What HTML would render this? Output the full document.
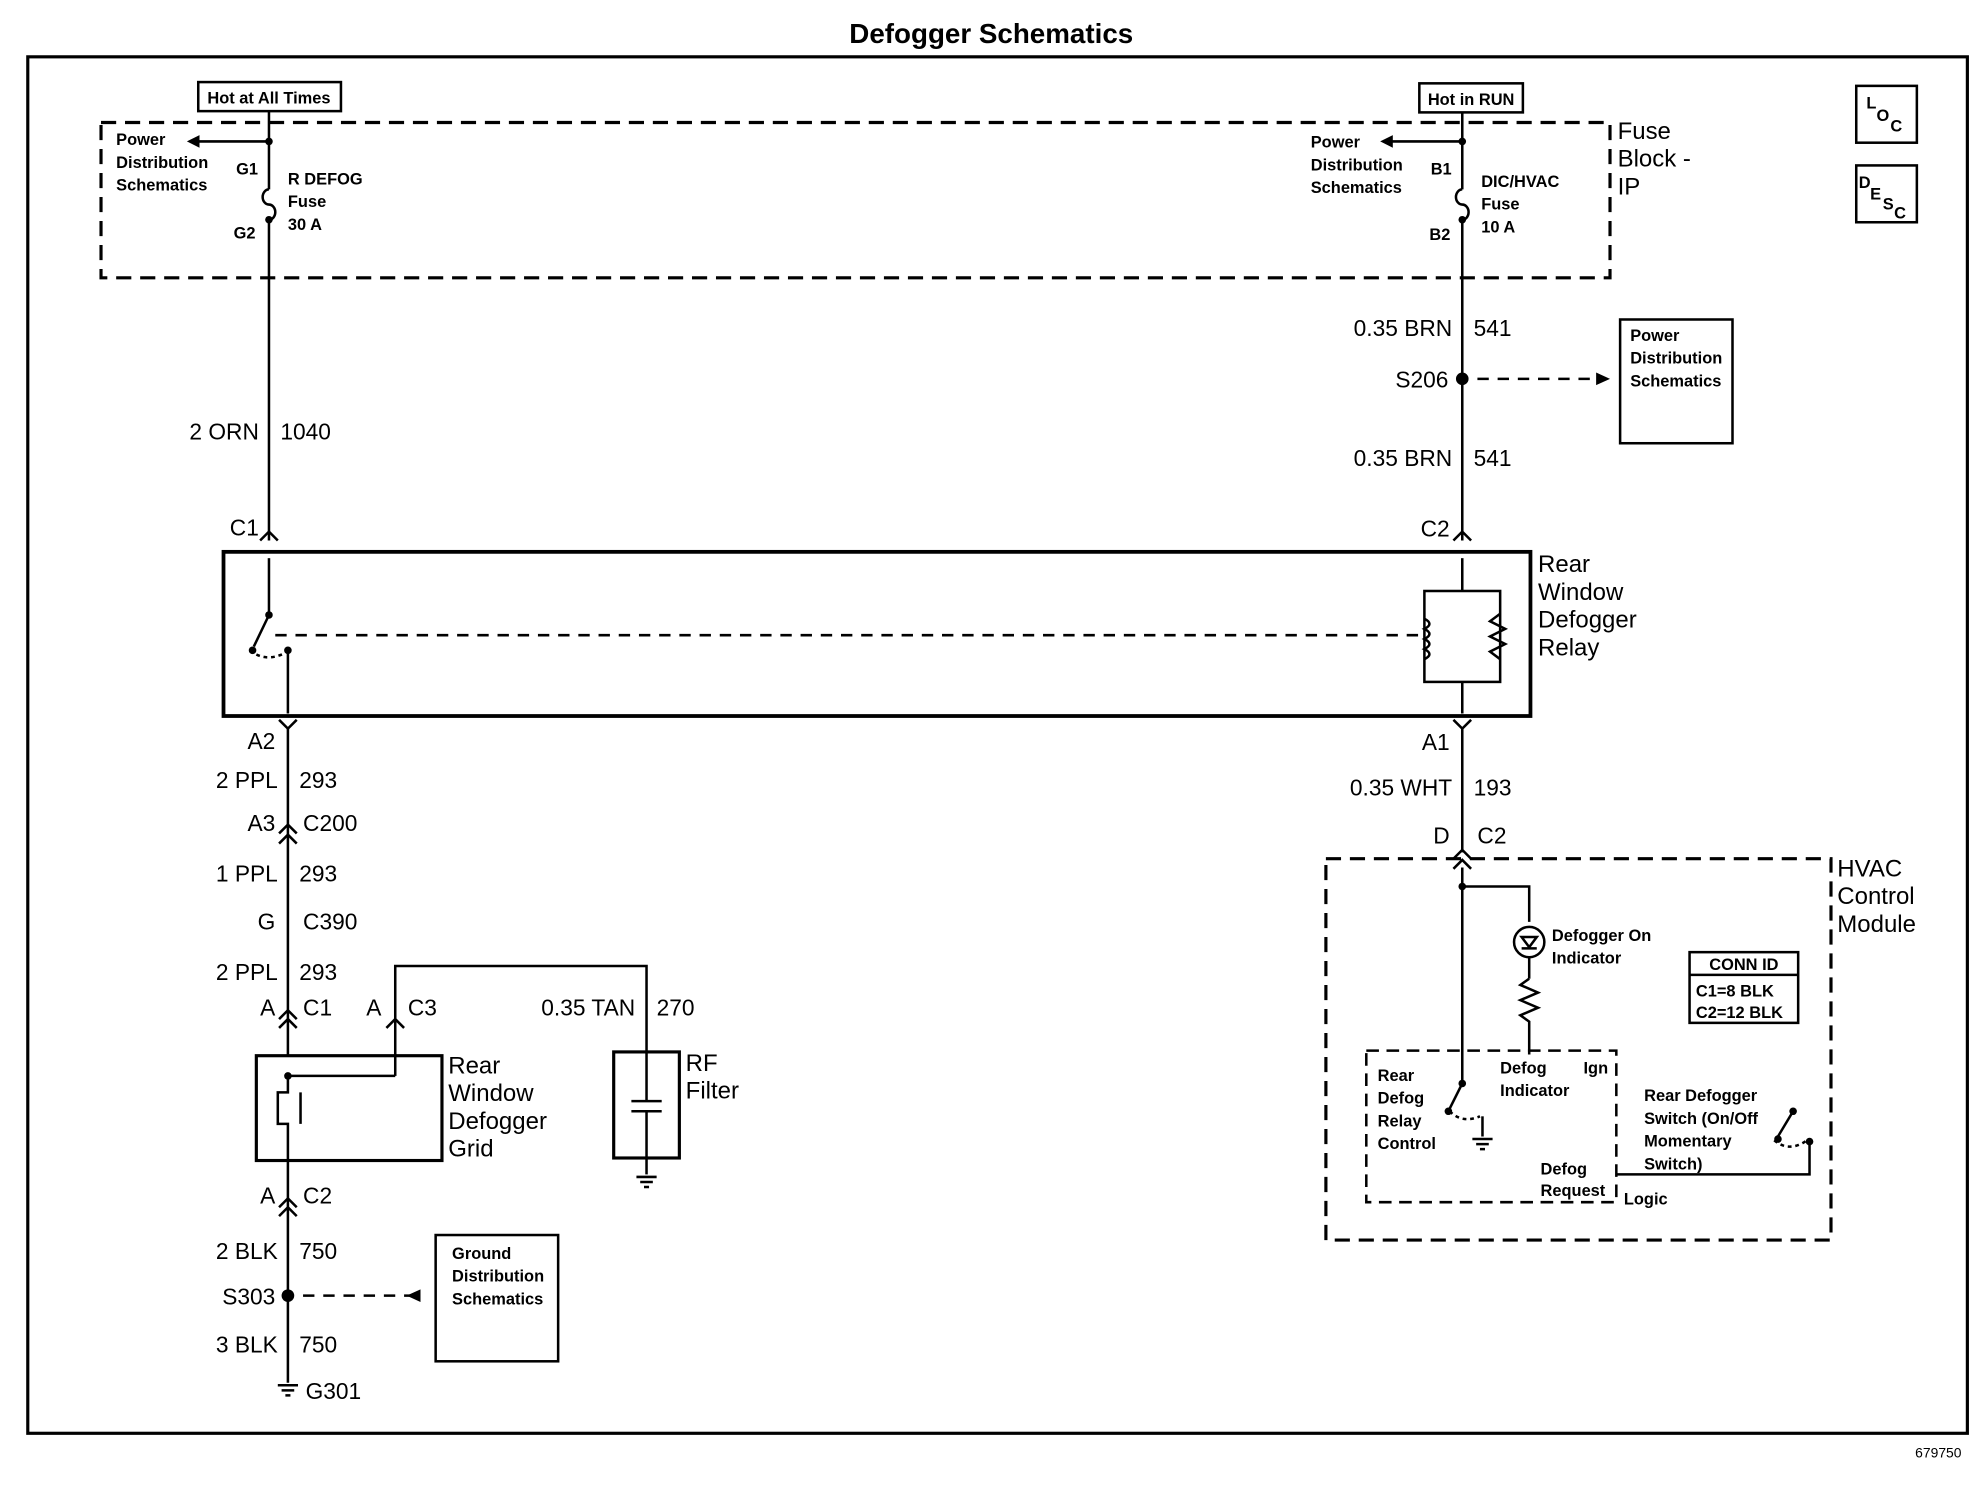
<!DOCTYPE html>
<html><head><meta charset="utf-8"><style>
html,body{margin:0;padding:0;background:#fff}
svg{display:block}
text{font-family:"Liberation Sans",Arial,sans-serif;fill:#000}
.s{font-size:13px;font-weight:bold}
.m{font-size:18px}
.l{font-size:19px}
</style></head><body>
<svg width="1980" height="1504" viewBox="0 0 1568 1191" preserveAspectRatio="none" xmlns="http://www.w3.org/2000/svg">
<g stroke="#000" fill="none" stroke-width="2">
<rect x="22" y="45" width="1536" height="1090" stroke-width="2.5"/>
<rect x="157" y="65" width="113" height="23"/>
<rect x="1124" y="66" width="82" height="23"/>
<rect x="80" y="97" width="1195" height="123" stroke-dasharray="12,7" stroke-width="2.5"/>
<rect x="1470" y="68" width="48" height="45"/>
<rect x="1470" y="131" width="48" height="45"/>
<line x1="213" y1="88" x2="213" y2="150"/>
<path d="M213 150 a5 6 0 0 0 0 12 a5 6 0 0 1 0 12"/>
<line x1="213" y1="174" x2="213" y2="428"/>
<line x1="213" y1="112" x2="155" y2="112"/>
<path d="M206 428 l7 -7 l7 7"/>
<line x1="1158" y1="89" x2="1158" y2="150"/>
<path d="M1158 150 a5 6 0 0 0 0 12 a5 6 0 0 1 0 12"/>
<line x1="1158" y1="174" x2="1158" y2="428"/>
<line x1="1158" y1="112" x2="1100" y2="112"/>
<path d="M1151 428 l7 -7 l7 7"/>
<line x1="1170" y1="300" x2="1265" y2="300" stroke-dasharray="9,7"/>
<rect x="1283" y="253" width="89" height="98"/>
<rect x="177" y="437" width="1035" height="130" stroke-width="3"/>
<line x1="213" y1="442" x2="213" y2="487"/>
<line x1="213" y1="487" x2="201" y2="512"/>
<line x1="228" y1="515" x2="228" y2="565"/>
<path d="M198 515 q12 10 28 2" stroke-dasharray="3,3"/>
<line x1="218" y1="503" x2="1125" y2="503" stroke-dasharray="9,7"/>
<line x1="1158" y1="442" x2="1158" y2="468"/>
<rect x="1128" y="468" width="60" height="72"/>
<path d="M1128 490 q8 4 0 8 q8 4 0 8 q8 4 0 8 q8 4 0 8"/>
<path d="M1188 486 l-8 6 l12 6 l-12 6 l12 6 l-12 6 l8 6"/>
<line x1="1158" y1="540" x2="1158" y2="565"/>
<path d="M1151 570 l7 7 l7 -7"/>
<line x1="1158" y1="577" x2="1158" y2="675"/>
<path d="M1151 680 l7 -7 l7 7"/><path d="M1151 688 l7 -7 l7 7"/>
<path d="M221 570 l7 7 l7 -7"/>
<line x1="228" y1="577" x2="228" y2="835"/>
<path d="M221 660 l7 -7 l7 7"/><path d="M221 668 l7 -7 l7 7"/>
<path d="M221 807 l7 -7 l7 7"/><path d="M221 814 l7 -7 l7 7"/>
<path d="M306 814 l7 -7 l7 7"/>
<path d="M313 808 V765 H512 V832"/>
<line x1="313" y1="808" x2="313" y2="852"/>
<rect x="203" y="836" width="147" height="83" stroke-width="2.5"/>
<line x1="228" y1="852" x2="313" y2="852"/>
<path d="M228 852 V865 H220 V890 H228 V919 M238 865 V890"/>
<line x1="228" y1="919" x2="228" y2="1095"/>
<path d="M221 956 l7 -7 l7 7"/><path d="M221 963 l7 -7 l7 7"/>
<line x1="240" y1="1026" x2="325" y2="1026" stroke-dasharray="9,7"/>
<rect x="345" y="978" width="97" height="100"/>
<path d="M220 1097 h16 M223 1101 h10 M226 1105 h4"/>
<rect x="486" y="833" width="52" height="84" stroke-width="2.5"/>
<line x1="512" y1="833" x2="512" y2="872"/>
<line x1="500" y1="872" x2="524" y2="872"/>
<line x1="500" y1="880" x2="524" y2="880"/>
<line x1="512" y1="880" x2="512" y2="930"/>
<path d="M504 932 h16 M507 936 h10 M510 940 h4"/>
<rect x="1050" y="680" width="400" height="302" stroke-dasharray="12,7" stroke-width="2.5"/>
<path d="M1158 702 H1211 V730"/>
<circle cx="1211" cy="746" r="12"/>
<path d="M1205 742 h12 l-6 8 z M1205 751 h12"/>
<line x1="1211" y1="758" x2="1211" y2="775"/>
<path d="M1211 775 l-7 5 l14 6 l-14 6 l14 6 l-14 6 l7 5 V835"/>
<rect x="1082" y="832" width="198" height="120" stroke-dasharray="10,6"/>
<line x1="1158" y1="687" x2="1158" y2="858"/>
<line x1="1158" y1="858" x2="1148" y2="878"/>
<path d="M1148 880 q10 10 24 4" stroke-dasharray="3,3"/>
<line x1="1174" y1="884" x2="1174" y2="900"/>
<path d="M1166 902 h16 M1169 906 h10 M1172 910 h4"/>
<rect x="1338" y="754" width="86" height="56"/>
<line x1="1338" y1="772" x2="1424" y2="772"/>
<path d="M1280 930 H1433 V905"/>
<line x1="1420" y1="880" x2="1408" y2="900"/>
<path d="M1405 903 q12 10 26 0" stroke-dasharray="3,3"/>
</g>
<g fill="#000">
<circle cx="213" cy="112" r="3"/><circle cx="213" cy="174" r="3"/>
<circle cx="1158" cy="112" r="3"/><circle cx="1158" cy="174" r="3"/>
<circle cx="1158" cy="300" r="5"/><circle cx="228" cy="1026" r="5"/>
<circle cx="213" cy="487" r="3"/><circle cx="200" cy="515" r="3"/><circle cx="228" cy="515" r="3"/>
<circle cx="228" cy="852" r="3"/><circle cx="1158" cy="702" r="3"/>
<circle cx="1158" cy="858" r="3"/><circle cx="1147" cy="880" r="3"/>
<circle cx="1420" cy="880" r="3"/><circle cx="1408" cy="902" r="3"/><circle cx="1433" cy="904" r="3"/>
<path d="M148 112 l10 -5 v10 z"/><path d="M1093 112 l10 -5 v10 z"/>
<path d="M1275 300 l-11 -5 v10 z"/><path d="M322 1026 l11 -5 v10 z"/>
</g>
<text x="785" y="34" text-anchor="middle" style="font-size:22px;font-weight:bold">Defogger Schematics</text>
<text x="1535" y="1154" style="font-size:11px" text-anchor="middle">679750</text>
<text x="213" y="82" class="s" text-anchor="middle">Hot at All Times</text>
<text x="1165" y="83" class="s" text-anchor="middle">Hot in RUN</text>
<text x="1478" y="86" class="s">L</text><text x="1486" y="96" class="s">O</text><text x="1497" y="104" class="s">C</text>
<text x="1472" y="149" class="s">D</text><text x="1481" y="158" class="s">E</text><text x="1491" y="166" class="s">S</text><text x="1500" y="173" class="s">C</text>
<text class="s"><tspan x="92" y="115">Power</tspan><tspan x="92" y="133">Distribution</tspan><tspan x="92" y="151">Schematics</tspan></text>
<text class="s" x="187" y="138">G1</text><text class="s" x="185" y="189">G2</text>
<text class="s"><tspan x="228" y="146">R DEFOG</tspan><tspan x="228" y="164">Fuse</tspan><tspan x="228" y="182">30 A</tspan></text>
<text class="s"><tspan x="1038" y="117">Power</tspan><tspan x="1038" y="135">Distribution</tspan><tspan x="1038" y="153">Schematics</tspan></text>
<text class="s" x="1133" y="138">B1</text><text class="s" x="1132" y="190">B2</text>
<text class="s"><tspan x="1173" y="148">DIC/HVAC</tspan><tspan x="1173" y="166">Fuse</tspan><tspan x="1173" y="184">10 A</tspan></text>
<text class="l"><tspan x="1281" y="110">Fuse</tspan><tspan x="1281" y="132">Block -</tspan><tspan x="1281" y="154">IP</tspan></text>
<text class="m" x="1150" y="266" text-anchor="end">0.35 BRN</text><text class="m" x="1167" y="266">541</text>
<text class="m" x="1147" y="307" text-anchor="end">S206</text>
<text class="m" x="1150" y="369" text-anchor="end">0.35 BRN</text><text class="m" x="1167" y="369">541</text>
<text class="s"><tspan x="1291" y="270">Power</tspan><tspan x="1291" y="288">Distribution</tspan><tspan x="1291" y="306">Schematics</tspan></text>
<text class="m" x="205" y="348" text-anchor="end">2 ORN</text><text class="m" x="222" y="348">1040</text>
<text class="m" x="205" y="424" text-anchor="end">C1</text>
<text class="m" x="1148" y="425" text-anchor="end">C2</text>
<text class="l"><tspan x="1218" y="453">Rear</tspan><tspan x="1218" y="475">Window</tspan><tspan x="1218" y="497">Defogger</tspan><tspan x="1218" y="519">Relay</tspan></text>
<text class="m" x="218" y="593" text-anchor="end">A2</text>
<text class="m" x="220" y="624" text-anchor="end">2 PPL</text><text class="m" x="237" y="624">293</text>
<text class="m" x="218" y="658" text-anchor="end">A3</text><text class="m" x="240" y="658">C200</text>
<text class="m" x="220" y="698" text-anchor="end">1 PPL</text><text class="m" x="237" y="698">293</text>
<text class="m" x="218" y="736" text-anchor="end">G</text><text class="m" x="240" y="736">C390</text>
<text class="m" x="220" y="776" text-anchor="end">2 PPL</text><text class="m" x="237" y="776">293</text>
<text class="m" x="218" y="804" text-anchor="end">A</text><text class="m" x="240" y="804">C1</text>
<text class="m" x="302" y="804" text-anchor="end">A</text><text class="m" x="323" y="804">C3</text>
<text class="m" x="503" y="804" text-anchor="end">0.35 TAN</text><text class="m" x="520" y="804">270</text>
<text class="l"><tspan x="355" y="850">Rear</tspan><tspan x="355" y="872">Window</tspan><tspan x="355" y="894">Defogger</tspan><tspan x="355" y="916">Grid</tspan></text>
<text class="l"><tspan x="543" y="848">RF</tspan><tspan x="543" y="870">Filter</tspan></text>
<text class="m" x="218" y="953" text-anchor="end">A</text><text class="m" x="240" y="953">C2</text>
<text class="m" x="220" y="997" text-anchor="end">2 BLK</text><text class="m" x="237" y="997">750</text>
<text class="m" x="218" y="1033" text-anchor="end">S303</text>
<text class="m" x="220" y="1071" text-anchor="end">3 BLK</text><text class="m" x="237" y="1071">750</text>
<text class="m" x="242" y="1108">G301</text>
<text class="s"><tspan x="358" y="997">Ground</tspan><tspan x="358" y="1015">Distribution</tspan><tspan x="358" y="1033">Schematics</tspan></text>
<text class="m" x="1148" y="594" text-anchor="end">A1</text>
<text class="m" x="1150" y="630" text-anchor="end">0.35 WHT</text><text class="m" x="1167" y="630">193</text>
<text class="m" x="1148" y="668" text-anchor="end">D</text><text class="m" x="1170" y="668">C2</text>
<text class="l"><tspan x="1455" y="694">HVAC</tspan><tspan x="1455" y="716">Control</tspan><tspan x="1455" y="738">Module</tspan></text>
<text class="s"><tspan x="1229" y="745">Defogger On</tspan><tspan x="1229" y="763">Indicator</tspan></text>
<text class="s" x="1381" y="768" text-anchor="middle">CONN ID</text>
<text class="s"><tspan x="1343" y="789">C1=8 BLK</tspan><tspan x="1343" y="806">C2=12 BLK</tspan></text>
<text class="s"><tspan x="1091" y="856">Rear</tspan><tspan x="1091" y="874">Defog</tspan><tspan x="1091" y="892">Relay</tspan><tspan x="1091" y="910">Control</tspan></text>
<text class="s"><tspan x="1188" y="850">Defog</tspan><tspan x="1188" y="868">Indicator</tspan></text>
<text class="s" x="1254" y="850">Ign</text>
<text class="s"><tspan x="1220" y="930">Defog</tspan><tspan x="1220" y="947">Request</tspan></text>
<text class="s" x="1286" y="954">Logic</text>
<text class="s"><tspan x="1302" y="872">Rear Defogger</tspan><tspan x="1302" y="890">Switch (On/Off</tspan><tspan x="1302" y="908">Momentary</tspan><tspan x="1302" y="926">Switch)</tspan></text>
</svg>
</body></html>
